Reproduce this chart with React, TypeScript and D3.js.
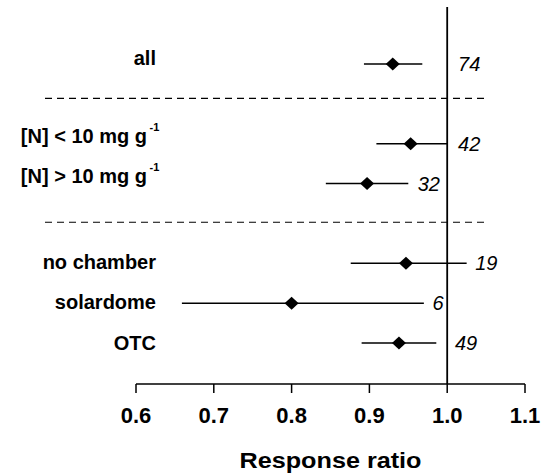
import React from "react";
import * as d3 from "d3";

const categories = ["all", "[N] < 10 mg g", "[N] > 10 mg g", "no chamber", "solardome", "OTC"];
const superscripts = ["", "-1", "-1", "", "", ""];
const slots = [0, 2, 3, 5, 6, 7];
const dividerSlots = [0.86, 3.97];
const means = [0.930, 0.953, 0.897, 0.947, 0.800, 0.938];
const ciLow = [0.893, 0.909, 0.844, 0.876, 0.659, 0.890];
const ciHigh = [0.968, 1.000, 0.950, 1.025, 0.970, 0.986];
const counts = ["74", "42", "32", "19", "6", "49"];
const countAt = [1.014, 1.014, 0.962, 1.036, 0.981, 1.010];
const xTicks = [0.6, 0.7, 0.8, 0.9, 1.0, 1.1];
const xTitle = "Response ratio";

export default function App() {
  const W = 544, H = 476;
  const x = d3.scaleLinear().domain([0.6, 1.1]).range([136, 525]);
  const y = d3.scaleLinear().domain([0, 7]).range([64, 343]);
  const yLabel = d3.scaleLinear().domain([0, 7]).range([65, 350]);
  const axisY = 384;
  const font = "'Liberation Sans', Arial, Helvetica, sans-serif";
  const diamond = "M-7,0L0,-6.5L7,0L0,6.5Z";
  return (
    <svg width={W} height={H} style={{ position: "absolute", left: 0, top: 0 }}>
      <rect width={W} height={H} fill="#fff" />
      {/* reference line */}
      <line x1={x(1)} x2={x(1)} y1={7} y2={axisY} stroke="#000" strokeWidth={1.8} />
      {/* dividers */}
      {dividerSlots.map((s, i) => (
        <line key={i} x1={45} x2={489} y1={y(s)} y2={y(s)} stroke="#000" strokeWidth={1.2} strokeDasharray="7,5" />
      ))}
      {categories.map((c, i) => {
        const yy = y(slots[i]);
        const yl = yLabel(slots[i]);
        return (
          <g key={c + i}>
            <line x1={x(ciLow[i])} x2={x(ciHigh[i])} y1={yy} y2={yy} stroke="#000" strokeWidth={1.5} />
            <path d={diamond} transform={`translate(${x(means[i])},${yy})`} fill="#000" />
            <text x={x(countAt[i])} y={yy + 7} fontFamily={font} fontStyle="italic" fontSize={20}>{counts[i]}</text>
            <text x={superscripts[i] ? 147 : 156} y={superscripts[i] ? yy - 0.5 : yl} fontFamily={font} fontWeight="bold" fontSize={20} textAnchor="end">
              {c}
            </text>
            {superscripts[i] && (
              <text x={149.5} y={yy - 13} fontFamily={font} fontWeight="bold" fontSize={11}>{superscripts[i]}</text>
            )}
          </g>
        );
      })}
      {/* x axis */}
      <line x1={x(0.6)} x2={x(1.1)} y1={axisY} y2={axisY} stroke="#000" strokeWidth={1.5} />
      {xTicks.map((t) => (
        <g key={t}>
          <line x1={x(t)} x2={x(t)} y1={axisY} y2={axisY + 9} stroke="#000" strokeWidth={1.5} />
          <text x={x(t)} y={423} textAnchor="middle" fontFamily={font} fontWeight="bold" fontSize={22}>
            {d3.format(".1f")(t)}
          </text>
        </g>
      ))}
      <text x={x(0.85)} y={468} textAnchor="middle" fontFamily={font} fontWeight="bold" fontSize={22}
        textLength={182} lengthAdjust="spacingAndGlyphs">{xTitle}</text>
    </svg>
  );
}
